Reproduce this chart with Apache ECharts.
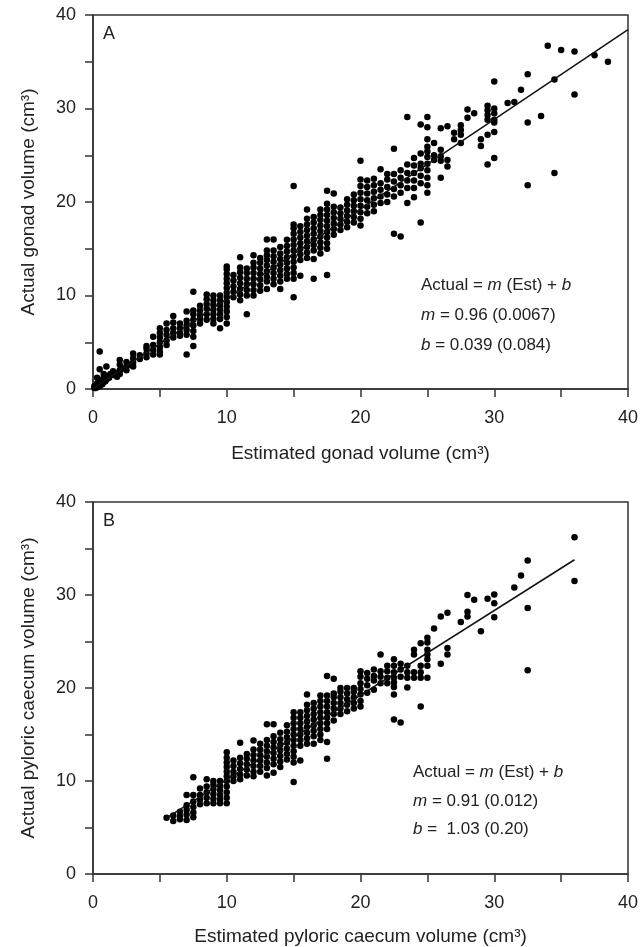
<!DOCTYPE html>
<html><head><meta charset="utf-8">
<script src="https://cdn.jsdelivr.net/npm/echarts@6/dist/echarts.min.js"></script>
<style>html,body{margin:0;padding:0;background:#fff}#c{width:643px;height:947px}</style>
</head><body><div id="c"></div>
<script>
// ---------- DATA ----------
// Panel A: [estimated gonad volume, [actual gonad volumes...]]
const gonadColumns = [
  [0.1,[0.1,0.3]],[0.2,[0.3,0.1]],[0.3,[0.2,0.6,1.2]],[0.4,[0.5]],[0.5,[0.3,0.9,2.1,4.0]],
  [0.6,[0.7]],[0.7,[0.5,1.0]],[0.8,[1.2,1.6]],[0.9,[0.8]],[1.0,[1.0,1.4,2.4]],
  [1.2,[1.2]],[1.3,[1.6]],[1.5,[1.5,1.9]],[1.7,[1.7]],[1.8,[1.3]],[2.0,[1.6,2.0,2.6,3.1]],
  [2.2,[2.2]],[2.5,[2.0,2.4,2.9]],[2.8,[2.6]],[3.0,[2.4,2.8,3.3,3.8]],[3.5,[3.2,3.6]],
  [4.0,[3.4,3.8,4.3,4.6]],[4.5,[3.7,4.2,4.7,5.6]],[5.0,[3.7,4.0,4.5,5.0,5.5,6.0,6.5]],
  [5.5,[4.7,5.2,5.8,6.3,7.0]],[6.0,[5.5,6.0,6.5,7.1,7.8]],[6.5,[5.7,6.0,6.5,7.0]],
  [7.0,[3.7,5.8,6.3,6.8,7.3,8.3]],[7.5,[4.6,5.6,6.2,6.8,7.4,8.0,8.4,10.4]],
  [8.0,[7.0,7.5,7.9,8.4,8.9]],[8.5,[7.4,8.0,8.6,9.1,9.6,10.1]],
  [9.0,[7.0,7.5,8.0,8.5,9.0,9.5,10.0]],[9.5,[6.5,7.5,8.0,8.5,9.0,9.5,10.0]],
  [10.0,[7.0,7.7,8.3,8.8,9.3,9.8,10.3,10.8,11.3,11.8,12.3,12.8,13.1]],
  [10.5,[9.8,10.4,11.0,11.6,12.2]],[11.0,[9.5,10.1,10.7,11.3,11.9,12.5,13.0,14.1]],
  [11.5,[8.0,10.0,10.6,11.2,11.8,12.4,12.9]],[12.0,[10.0,10.6,11.2,11.8,12.4,13.0,13.5,14.3]],
  [12.5,[10.5,11.1,11.7,12.3,12.9,13.5,14.0]],[13.0,[10.7,11.5,12.0,12.6,13.2,13.8,14.3,14.8,16.0]],
  [13.5,[11.2,11.8,12.4,13.0,13.6,14.2,14.8,16.0]],[14.0,[10.7,11.5,12.1,12.7,13.3,13.9,14.5,15.2]],
  [14.5,[11.8,12.3,12.9,13.5,14.1,14.7,15.3,15.95]],
  [15.0,[9.8,11.8,12.4,13.0,13.6,14.2,14.8,15.4,16.0,16.6,17.2,17.6,21.7]],
  [15.5,[12.1,13.8,14.4,15.0,15.6,16.2,16.8,17.4]],[16.0,[14.0,14.6,15.2,15.8,16.4,17.0,17.6,18.2,19.2]],
  [16.5,[11.8,13.9,14.8,15.4,16.0,16.6,17.2,17.8,18.4]],[17.0,[14.5,15.1,15.7,16.3,16.9,17.5,18.1,18.6,19.2]],
  [17.5,[12.2,15.0,15.6,16.2,16.8,17.4,18.0,18.6,19.2,19.8,21.2]],[18.0,[16.5,17.1,17.7,18.3,18.9,19.5,20.9]],
  [18.5,[17.0,17.6,18.2,18.8,19.4]],[19.0,[17.3,17.9,18.5,19.1,19.7,20.3]],
  [19.5,[17.8,18.4,19.0,19.6,20.2,20.8]],[20.0,[17.5,18.2,18.9,19.6,20.3,21.0,21.7,22.4,24.4]],
  [20.5,[18.8,19.5,20.2,20.9,21.6,22.3]],[21.0,[19.0,19.7,20.4,21.1,21.8,22.5]],
  [21.5,[19.9,20.6,21.3,22.0,23.5]],[22.0,[20.0,20.8,21.6,22.4,23.0]],
  [22.5,[16.6,20.6,21.4,22.2,23.0,25.7]],[23.0,[16.3,21.0,21.8,22.6,23.4]],
  [23.5,[19.9,21.5,22.3,23.1,24.0,29.1]],[24.0,[20.5,21.5,22.3,23.1,23.9,24.7]],
  [24.5,[17.8,22.0,22.8,23.6,24.1,25.2,28.3]],
  [25.0,[21.0,21.8,22.6,23.4,24.1,24.8,25.4,25.9,26.7,28.0,29.1]],
  [25.5,[24.5,25.0,26.3]],[26.0,[22.6,24.4,24.9,25.6,27.9]],[26.5,[23.8,24.5,28.1]],
  [27.0,[26.7,27.4]],[27.5,[26.3,27.2,27.7,28.2]],[28.0,[29.0,29.9]],[28.5,[29.5]],
  [29.0,[26.0,26.7]],[29.5,[24.0,27.2,28.8,29.3,29.8,30.3]],[30.0,[24.7,27.5,28.5,28.8,29.5,30.0,32.9]],
  [31.0,[30.6]],[31.5,[30.7]],[32.0,[32.0]],[32.5,[21.8,28.5,33.65]],[33.5,[29.2]],
  [34.0,[36.7]],[34.5,[23.1,33.1]],[35.0,[36.25]],[36.0,[31.5,36.1]],[37.5,[35.7]],[38.5,[35.0]]
];
// Panel B: [estimated pyloric caecum volume, [actual volumes...]]
const caecumColumns = [
  [5.5,[6.05]],[6.0,[5.7,6.3]],[6.5,[5.9,6.2,6.7]],[7.0,[5.8,6.4,6.9,7.4,8.5]],
  [7.5,[6.1,6.6,7.2,7.8,8.5,10.4]],[8.0,[7.5,8.0,8.5,9.2]],[8.5,[7.6,8.2,8.8,9.4,10.2]],
  [9.0,[7.6,8.1,8.6,9.1,9.6,10.0]],[9.5,[7.6,8.0,8.5,9.0,9.5,10.0]],
  [10.0,[7.6,8.2,8.8,9.4,10.0,10.5,11.0,11.5,12.0,12.5,13.1]],
  [10.5,[10.0,10.5,11.0,11.6,12.2]],[11.0,[10.2,10.7,11.3,11.9,12.5,14.1]],
  [11.5,[10.6,11.2,11.8,12.4,12.9]],[12.0,[10.5,11.0,11.6,12.2,12.8,13.4,14.35]],
  [12.5,[11.0,11.6,12.2,12.8,13.4,14.0]],[13.0,[10.6,11.4,12.0,12.6,13.2,13.8,14.4,16.1]],
  [13.5,[10.9,11.8,12.4,13.0,13.6,14.2,14.8,16.1]],[14.0,[11.5,12.1,12.7,13.3,13.9,14.5,15.2]],
  [14.5,[12.3,12.9,13.5,14.1,14.7,15.3,16.0]],
  [15.0,[9.9,12.0,12.6,13.2,13.8,14.4,15.0,15.6,16.2,16.8,17.4]],
  [15.5,[12.2,13.8,14.4,15.0,15.6,16.2,16.8,17.4]],[16.0,[14.0,14.6,15.2,15.8,16.4,17.0,17.6,18.2,19.3]],
  [16.5,[14.0,14.8,15.4,16.0,16.6,17.2,17.8,18.4]],[17.0,[14.4,15.0,15.6,16.2,16.8,17.4,18.0,18.6,19.2]],
  [17.5,[12.4,14.2,15.6,16.2,16.8,17.4,18.0,18.6,19.2,21.3]],[18.0,[16.5,17.2,17.8,18.4,19.0,19.4,21.0]],
  [18.5,[17.2,17.8,18.4,19.0,19.6,20.0]],[19.0,[17.5,18.2,18.8,19.4,20.0]],
  [19.5,[17.8,18.4,19.0,19.6,20.0]],[20.0,[18.0,18.6,19.3,19.9,20.5,21.2,21.8]],
  [20.5,[19.5,20.3,21.0,21.6]],[21.0,[19.8,20.8,21.3,22.0]],[21.5,[20.5,21.2,21.8,23.6]],
  [22.0,[20.5,21.1,21.8,22.4]],[22.5,[16.6,19.3,20.1,20.6,21.1,21.7,22.4,23.1]],
  [23.0,[16.3,21.2,22.0,22.6]],[23.5,[20.05,21.1,21.7,22.4]],[24.0,[21.1,21.7,23.6,24.1]],
  [24.5,[18.0,21.1,21.7,22.4,24.8]],[25.0,[21.1,22.4,23.1,23.6,24.1,24.9,25.4]],
  [25.5,[26.4]],[26.0,[22.6,27.7]],[26.5,[23.6,24.3,28.1]],[27.5,[27.1]],
  [28.0,[27.7,28.2,30.0]],[28.5,[29.5]],[29.0,[26.1]],[29.5,[29.6]],[30.0,[27.6,29.1,30.05]],
  [31.5,[30.8]],[32.0,[32.1]],[32.5,[21.9,28.6,33.7]],[36.0,[31.5,36.2]]
];
// Fitted lines (end points of regression lines as drawn)
const fitLineA = [[0, 0.039], [40, 38.44]];
const fitLineB = [[5.5, 6.04], [36, 33.79]];
const axisTicks = [0, 10, 20, 30, 40];
const textA = ['Actual = {i|m} (Est) + {i|b}', '{i|m} = 0.96 (0.0067)', '{i|b} = 0.039 (0.084)'];
const textB = ['Actual = {i|m} (Est) + {i|b}', '{i|m} = 0.91 (0.012)', '{i|b} =  1.03 (0.20)'];

// ---------- CHART ----------
const FONT = '"Liberation Sans", Arial, Helvetica, sans-serif';
const INK = '#222';
function flatten(cols){ const out=[]; cols.forEach(c => c[1].forEach(y => out.push([c[0], y]))); return out; }
function lbl(v){ return axisTicks.indexOf(v) >= 0 ? String(v) : ''; }
function xAx(gi, name, gap){
  return { type:'value', gridIndex:gi, min:0, max:40, interval:5, name:name, nameLocation:'middle', nameGap:gap,
    nameTextStyle:{fontSize:19, color:INK, fontFamily:FONT},
    axisLine:{onZero:false, lineStyle:{color:'#333', width:1.5}},
    axisTick:{length:8, lineStyle:{color:'#333', width:1.5}},
    axisLabel:{margin:20, fontSize:18, color:INK, fontFamily:FONT, formatter:lbl},
    splitLine:{show:false} };
}
function yAx(gi, name){
  return { type:'value', gridIndex:gi, min:0, max:40, interval:5, name:name, nameLocation:'middle', nameGap:55,
    nameTextStyle:{fontSize:19, color:INK, fontFamily:FONT},
    axisLine:{onZero:false, lineStyle:{color:'#333', width:1.5}},
    axisTick:{length:8, lineStyle:{color:'#333', width:1.5}},
    axisLabel:{margin:17, fontSize:18, color:INK, fontFamily:FONT, formatter:lbl},
    splitLine:{show:false} };
}
function annot(lines, left, top, gap){
  return lines.map((t, i) => ({ type:'text', left:left, top:top + i*gap, z:100,
    style:{ text:t, fill:INK, fontSize:17, fontFamily:FONT,
      rich:{ i:{ fontStyle:'italic', fontSize:17, fontFamily:FONT, fill:INK } } } }));
}
const chart = echarts.init(document.getElementById('c'), null, {renderer:'canvas'});
chart.setOption({
  animation:false,
  backgroundColor:'#fff',
  grid:[
    {left:93, top:15, width:535, height:374, show:true, borderColor:'#333', borderWidth:1.5, backgroundColor:'transparent'},
    {left:93, top:502, width:535, height:374, show:true, borderColor:'#333', borderWidth:1.5, backgroundColor:'transparent'}
  ],
  xAxis:[ xAx(0, 'Estimated gonad volume (cm³)', 55), xAx(1, 'Estimated pyloric caecum volume (cm³)', 53) ],
  yAxis:[ yAx(0, 'Actual gonad volume (cm³)'), yAx(1, 'Actual pyloric caecum volume (cm³)') ],
  series:[
    {type:'scatter', xAxisIndex:0, yAxisIndex:0, data:flatten(gonadColumns), symbolSize:6.5, itemStyle:{color:'#000', opacity:1}},
    {type:'line', xAxisIndex:0, yAxisIndex:0, data:fitLineA, symbol:'none', lineStyle:{color:'#111', width:1.5}, z:5},
    {type:'scatter', xAxisIndex:1, yAxisIndex:1, data:flatten(caecumColumns), symbolSize:6.5, itemStyle:{color:'#000', opacity:1}},
    {type:'line', xAxisIndex:1, yAxisIndex:1, data:fitLineB, symbol:'none', lineStyle:{color:'#111', width:1.5}, z:5}
  ],
  graphic:[
    {type:'text', left:103, top:25, style:{text:'A', fill:INK, fontSize:18, fontFamily:FONT}},
    {type:'text', left:103, top:512, style:{text:'B', fill:INK, fontSize:18, fontFamily:FONT}}
  ].concat(annot(textA, 421, 277, 30)).concat(annot(textB, 413, 764, 28.5))
});
</script></body></html>
